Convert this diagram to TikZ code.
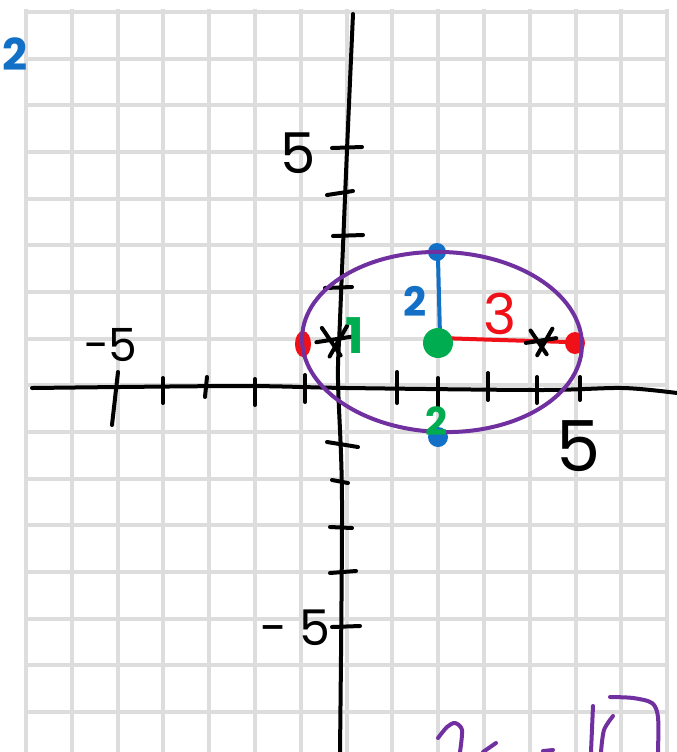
\documentclass[tikz,border=0pt]{standalone}
\usepackage{fontspec}
\newfontfamily\handfont{Poppins}
\definecolor{paperline}{RGB}{221,221,221}
\definecolor{inkpurple}{RGB}{112,48,160}
\definecolor{inkblue}{RGB}{18,112,198}
\definecolor{inkred}{RGB}{240,16,24}
\definecolor{inkgreen}{RGB}{0,172,80}
\tikzset{
  gridline/.style={paperline, line width=0.08cm},
  ink/.style={line width=0.08cm, line cap=round, line join=round},
  handtext/.style={inner sep=0pt, font=\handfont\fontsize{#1}{#1}\selectfont},
  handbold/.style={inner sep=0pt, font=\handfont\bfseries\fontsize{#1}{#1}\selectfont},
}
\begin{document}
\begin{tikzpicture}[x=0.02cm, y=-0.02cm]
  \useasboundingbox (0,0) rectangle (677,752);
  \clip (0,0) rectangle (677,752);
  % === Mrizka papiru ===
  \foreach \k in {0,...,14}
    \draw[gridline] ({26+45.8*\k},9) -- ({26+45.8*\k},752);
  \foreach \k in {0,...,15}
    \draw[gridline] (24,{12+46.67*\k}) -- (669,{12+46.67*\k});
  % === Osy ===
  \draw[ink] plot[smooth] coordinates {(32,388) (240,386) (347,388) (540,390) (623,388) (677,393)};
  \draw[ink] plot[smooth] coordinates {(353,14) (347,150) (340,320) (338,380) (342,500) (340,752)};
  % === Dilky na ose x ===
  \foreach \xa/\ya/\xb/\yb in {118/372/112/425, 163/378/163/403, 207/377/205/397,
      255/379/255/405, 305/375/305/402, 397/372/397/403, 438/378/438/407,
      488/373/488/400, 537/377/537/403, 580/377/580/400}
    \draw[ink] (\xa,\ya) -- (\xb,\yb);
  % === Dilky na ose y ===
  \foreach \xa/\ya/\xb/\yb in {332/148/362/147, 327/195/353/191, 333/236/363/235,
      325/288/352/287, 327/442/358/447, 332/480/348/483, 330/527/352/528,
      330/573/356/571, 332/627/360/626}
    \draw[ink] (\xa,\ya) -- (\xb,\yb);
  % === Poloosy ===
  \draw[ink, inkblue] (438,258) -- (440,336);
  \draw[ink, inkred] plot[smooth] coordinates {(440,338) (500,340) (568,342)};
  % === Stred a vrcholy ===
  \fill[inkgreen] (438,343) circle (15);
  \fill[inkblue] (437,252) circle (9);
  \fill[inkblue] (438,437) circle (10);
  \fill[inkred] (303,344) ellipse [x radius=8, y radius=13];
  \fill[inkred] (575,343) ellipse [x radius=10, y radius=11];
  % === Elipsa ===
  \draw[ink, inkpurple, rotate around={-2:(442,342)}] (442,342) ellipse [x radius=140, y radius=90];
  % === Ohniska ===
  \foreach \cx/\cy/\s in {334/340/1.1, 541/341/0.95}
    \draw[ink, scale around={\s:(\cx,\cy)}] (\cx-16,\cy+2) -- (\cx+16,\cy-3)
      (\cx-11,\cy-11) -- (\cx+6,\cy+14) (\cx+12,\cy-13) -- (\cx-4,\cy+15);
  % === Popisky ===
  \node[handtext=32pt] (ytop) at (298,153) {5};
  \node[handtext=26pt] (xleft) at (110,345) {−5};
  \node[handtext=40pt] (xright) at (579,446) {5};
  \node[handtext=28pt] (ybottom) at (295,628) {− 5};
  \node[handbold=25pt, inkblue] (bluecorner) at (15,54) {2};
  \node[handbold=23pt, inkblue] (bluetwo) at (415,301) {2};
  \node[handtext=32pt, inkred] (redthree) at (500,314) {3};
  \node[handbold=28pt, inkgreen] (greenone) at (355,336) {1};
  \node[handbold=22pt, inkgreen] (greentwo) at (437,421) {2};
  % === Useknuty zapis dole ===
  \draw[ink, inkpurple] plot[smooth] coordinates {(438,738) (447,727) (455,723) (462,730) (460,752)};
  \draw[ink, inkpurple] (483,752) -- (496,743);
  \draw[ink, inkpurple] (543,751) -- (553,750);
  \draw[ink, inkpurple] (593,706) -- (591,752);
  \draw[ink, inkpurple] plot[smooth] coordinates {(613,716) (604,730) (601,752)};
  \draw[ink, inkpurple] plot[smooth] coordinates {(610,697) (633,698) (652,703) (658,717) (658,752)};
\end{tikzpicture}
\end{document}
